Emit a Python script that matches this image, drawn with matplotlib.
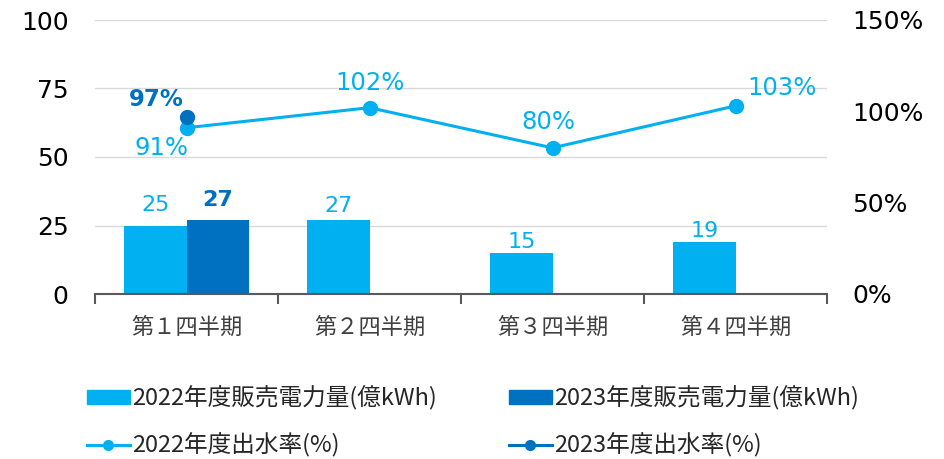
import matplotlib
matplotlib.use('Agg')
import matplotlib.pyplot as plt
import numpy as np
from matplotlib.lines import Line2D
from matplotlib.patches import Patch

plt.rcParams['font.family'] = ['DejaVu Sans', 'Noto Sans CJK JP']
cjk = ['Noto Sans CJK JP', 'DejaVu Sans']

# data
quarters = ['第１四半期', '第２四半期', '第３四半期', '第４四半期']
sales_2022 = [25, 27, 15, 19]
sales_2023 = [27, None, None, None]
rate_2022 = [91, 102, 80, 103]
rate_2023 = [97, None, None, None]

c22 = '#00B0F0'
c23 = '#0070C0'

fig = plt.figure(figsize=(9.44, 4.59), dpi=100)
ax = fig.add_axes([95/944, 1-294/459, 732/944, 274/459])
ax2 = ax.twinx()

x = np.arange(len(quarters))
w = 0.34

# bars
ax.bar(x - w/2, sales_2022, w, color=c22, zorder=2)
x23 = [xi + w/2 for xi, v in zip(x, sales_2023) if v is not None]
v23 = [v for v in sales_2023 if v is not None]
ax.bar(x23, v23, w, color=c23, zorder=2)

bar_lab_off = [20, 14, 11, 11]
for xi, v, off in zip(x, sales_2022, bar_lab_off):
    ax.annotate(str(v), (xi - w/2, v), xytext=(0, off), textcoords='offset pixels',
                ha='center', va='center', color=c22, fontsize=16)
for xi, v in zip(x23, v23):
    ax.annotate(str(v), (xi, v), xytext=(0, 20), textcoords='offset pixels',
                ha='center', va='center', color=c23, fontsize=16, fontweight='bold')

# lines on right axis
ax2.plot(x, rate_2022, color=c22, lw=2.2, marker='o', ms=10, zorder=3)
x23r = [xi for xi, v in zip(x, rate_2023) if v is not None]
r23 = [v for v in rate_2023 if v is not None]
ax2.plot(x23r, r23, color=c23, lw=2.2, marker='o', ms=10, zorder=4)

rate_lab_off = [(-25, -20), (0, 25), (-4, 26), (46, 18)]
for xi, v, (dx, dy) in zip(x, rate_2022, rate_lab_off):
    ax2.annotate(f'{v}%', (xi, v), xytext=(dx, dy), textcoords='offset pixels',
                 ha='center', va='center', color=c22, fontsize=17.5)
for xi, v in zip(x23r, r23):
    ax2.annotate(f'{v}%', (xi, v), xytext=(-30, 17), textcoords='offset pixels',
                 ha='center', va='center', color=c23, fontsize=16.5, fontweight='bold')

ax.set_ylim(0, 100)
ax.set_yticks([0, 25, 50, 75, 100])
ax2.set_ylim(0, 150)
ax2.set_yticks([0, 50, 100, 150])
ax2.set_yticklabels(['0%', '50%', '100%', '150%'])
ax.set_xlim(-0.5, 3.5)
ax.set_xticks(x)
ax.set_xticklabels(quarters, fontsize=16, family=cjk, color='#404040')
ax.set_xticks(np.arange(-0.5, 4, 1), minor=True)

ax.grid(axis='y', color='#D9D9D9', lw=1, zorder=0)
ax.set_axisbelow(True)
for a in (ax, ax2):
    for s in ['top', 'left', 'right', 'bottom']:
        a.spines[s].set_visible(False)
ax.spines['bottom'].set_visible(True)
ax.spines['bottom'].set_color('#595959')
ax.spines['bottom'].set_linewidth(1.5)

ax.tick_params(axis='y', length=0, labelsize=18, pad=19)
ax2.tick_params(axis='y', length=0, labelsize=18, pad=18)
ax.tick_params(axis='x', which='major', length=0, pad=16)
ax.tick_params(axis='x', which='minor', length=7, width=1.5, color='#595959', direction='out')

# legend
handles = [Patch(color=c22), Line2D([], [], color=c22, lw=2.2, marker='o', ms=7),
           Patch(color=c23), Line2D([], [], color=c23, lw=2.2, marker='o', ms=7)]
labels = ['2022年度販売電力量(億kWh)', '2022年度出水率(%)',
          '2023年度販売電力量(億kWh)', '2023年度出水率(%)']
fig.legend(handles, labels, ncol=2, loc='upper left', bbox_to_anchor=(80/944, 1-379/459),
           frameon=False, prop={'family': cjk, 'size': 17}, handlelength=1.8,
           handleheight=0.55, handletextpad=0.12, columnspacing=3.05,
           labelspacing=0.96, borderaxespad=0, borderpad=0.3, labelcolor='#262626')

fig.savefig('out.png', dpi=100)
